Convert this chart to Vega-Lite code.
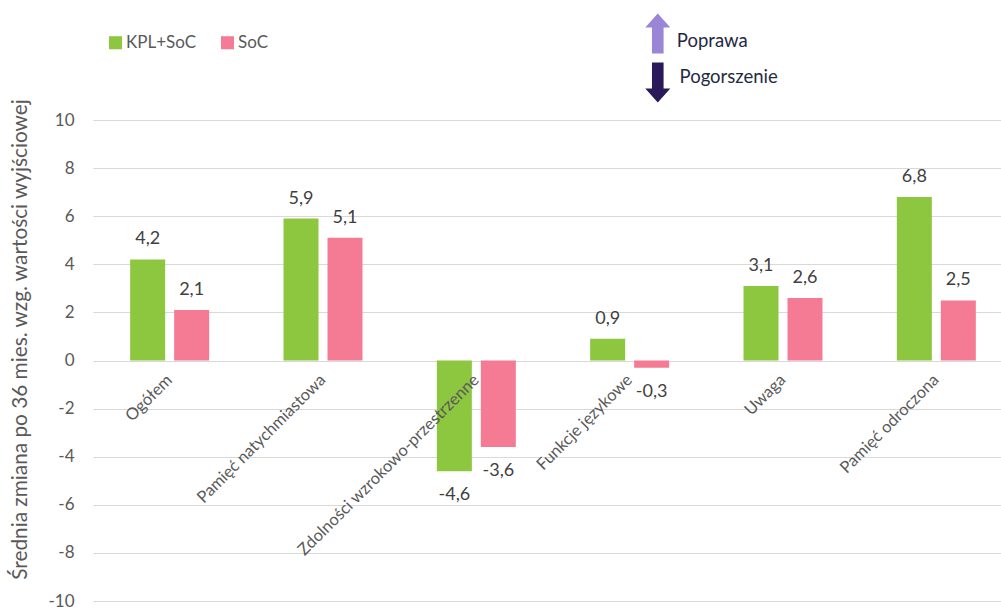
{
  "$schema": "https://vega.github.io/schema/vega-lite/v6.json",
  "autosize": "none",
  "padding": {"left": 93, "top": 120, "right": 0, "bottom": 9},
  "width": 908,
  "height": 481,
  "background": "white",
  "config": {"view": {"stroke": null}, "font": "Lato"},
  "datasets": {
    "wyniki": [
      {"domena": "Ogółem", "grupa": "KPL+SoC", "zmiana": 4.2},
      {"domena": "Ogółem", "grupa": "SoC", "zmiana": 2.1},
      {"domena": "Pamięć natychmiastowa", "grupa": "KPL+SoC", "zmiana": 5.9},
      {"domena": "Pamięć natychmiastowa", "grupa": "SoC", "zmiana": 5.1},
      {"domena": "Zdolności wzrokowo-przestrzenne", "grupa": "KPL+SoC", "zmiana": -4.6},
      {"domena": "Zdolności wzrokowo-przestrzenne", "grupa": "SoC", "zmiana": -3.6},
      {"domena": "Funkcje językowe", "grupa": "KPL+SoC", "zmiana": 0.9},
      {"domena": "Funkcje językowe", "grupa": "SoC", "zmiana": -0.3},
      {"domena": "Uwaga", "grupa": "KPL+SoC", "zmiana": 3.1},
      {"domena": "Uwaga", "grupa": "SoC", "zmiana": 2.6},
      {"domena": "Pamięć odroczona", "grupa": "KPL+SoC", "zmiana": 6.8},
      {"domena": "Pamięć odroczona", "grupa": "SoC", "zmiana": 2.5}
    ],
    "kierunek": [
      {"opis": "Poprawa", "pozycja": 64.3, "poziom": 13.28},
      {"opis": "Pogorszenie", "pozycja": 64.6, "poziom": 11.8}
    ],
    "strzalki": [
      {"rodzaj": "w górę", "pozycja": 62.2, "poziom": 13.6},
      {"rodzaj": "w dół", "pozycja": 62.2, "poziom": 11.56}
    ]
  },
  "layer": [
    {
      "data": {"name": "wyniki"},
      "transform": [
        {"calculate": "replace('' + datum.zmiana, '.', ',')", "as": "etykieta"}
      ],
      "encoding": {
        "x": {
          "field": "domena",
          "type": "nominal",
          "sort": null,
          "scale": {"range": [0, 920], "paddingInner": 0, "paddingOuter": 0},
          "axis": {
            "title": null,
            "offset": -240,
            "zindex": 1,
            "labelAngle": -45,
            "labelAlign": "right",
            "labelBaseline": "middle",
            "labelPadding": 16,
            "labelFontSize": 16.5,
            "labelColor": "#595959",
            "labelLimit": 400,
            "ticks": false,
            "domain": false
          }
        },
        "xOffset": {
          "field": "grupa",
          "type": "nominal",
          "sort": ["KPL+SoC", "SoC"],
          "scale": {"paddingInner": 0.2045, "paddingOuter": 0.845}
        },
        "y": {
          "field": "zmiana",
          "type": "quantitative",
          "scale": {"domain": [-10, 10], "nice": false},
          "axis": {
            "title": "Średnia zmiana po 36 mies. wzg. wartości wyjściowej",
            "titleFontSize": 20.8,
            "titleFontWeight": "normal",
            "titleColor": "#595959",
            "titleX": -63,
            "titleY": 219,
            "values": [-10, -8, -6, -4, -2, 0, 2, 4, 6, 8, 10],
            "labelExpr": "'' + datum.value",
            "labelFontSize": 17,
            "labelColor": "#595959",
            "labelPadding": 19,
            "ticks": false,
            "domain": false,
            "grid": true,
            "gridColor": "#d9d9d9",
            "gridWidth": 1.2,
            "zindex": 0
          }
        }
      },
      "layer": [
        {
          "mark": {"type": "bar"},
          "encoding": {
            "color": {
              "field": "grupa",
              "type": "nominal",
              "sort": ["KPL+SoC", "SoC"],
              "scale": {"domain": ["KPL+SoC", "SoC"], "range": ["#8DC63F", "#F57A94"]},
              "legend": {
                "title": null,
                "orient": "none",
                "legendX": 14,
                "legendY": -86,
                "direction": "horizontal",
                "symbolType": "square",
                "symbolSize": 170,
                "symbolStrokeWidth": 0,
                "symbolOpacity": 1,
                "labelFontSize": 17,
                "labelColor": "#595959",
                "labelOffset": 2,
                "columnPadding": 22
              }
            }
          }
        },
        {
          "transform": [{"filter": "datum.zmiana >= 0"}],
          "mark": {"type": "text", "dy": -20, "fontSize": 18, "color": "#404040"},
          "encoding": {"text": {"field": "etykieta", "type": "nominal"}}
        },
        {
          "transform": [{"filter": "datum.zmiana < 0"}],
          "mark": {"type": "text", "dy": 24, "fontSize": 18, "color": "#404040"},
          "encoding": {"text": {"field": "etykieta", "type": "nominal"}}
        }
      ]
    },
    {
      "data": {"name": "strzalki"},
      "transform": [{"filter": "datum.rodzaj === 'w górę'"}],
      "mark": {
        "type": "point",
        "filled": true,
        "opacity": 1,
        "size": 1600,
        "color": "#9B85D6",
        "shape": "M0,-1 L0.625,-0.3 L0.29,-0.3 L0.29,1 L-0.29,1 L-0.29,-0.3 L-0.625,-0.3 Z"
      },
      "encoding": {
        "x": {"field": "pozycja", "type": "quantitative", "scale": {"domain": [0, 100]}, "axis": null},
        "y": {"field": "poziom", "type": "quantitative"}
      }
    },
    {
      "data": {"name": "strzalki"},
      "transform": [{"filter": "datum.rodzaj === 'w dół'"}],
      "mark": {
        "type": "point",
        "filled": true,
        "opacity": 1,
        "size": 1600,
        "color": "#2A1A5A",
        "shape": "M0,1 L0.625,0.3 L0.29,0.3 L0.29,-1 L-0.29,-1 L-0.29,0.3 L-0.625,0.3 Z"
      },
      "encoding": {
        "x": {"field": "pozycja", "type": "quantitative", "scale": {"domain": [0, 100]}, "axis": null},
        "y": {"field": "poziom", "type": "quantitative"}
      }
    },
    {
      "data": {"name": "kierunek"},
      "mark": {"type": "text", "align": "left", "fontSize": 18.5, "color": "#1F2A44"},
      "encoding": {
        "x": {"field": "pozycja", "type": "quantitative", "scale": {"domain": [0, 100]}, "axis": null},
        "y": {"field": "poziom", "type": "quantitative"},
        "text": {"field": "opis", "type": "nominal"}
      }
    }
  ],
  "resolve": {"scale": {"x": "independent"}}
}
